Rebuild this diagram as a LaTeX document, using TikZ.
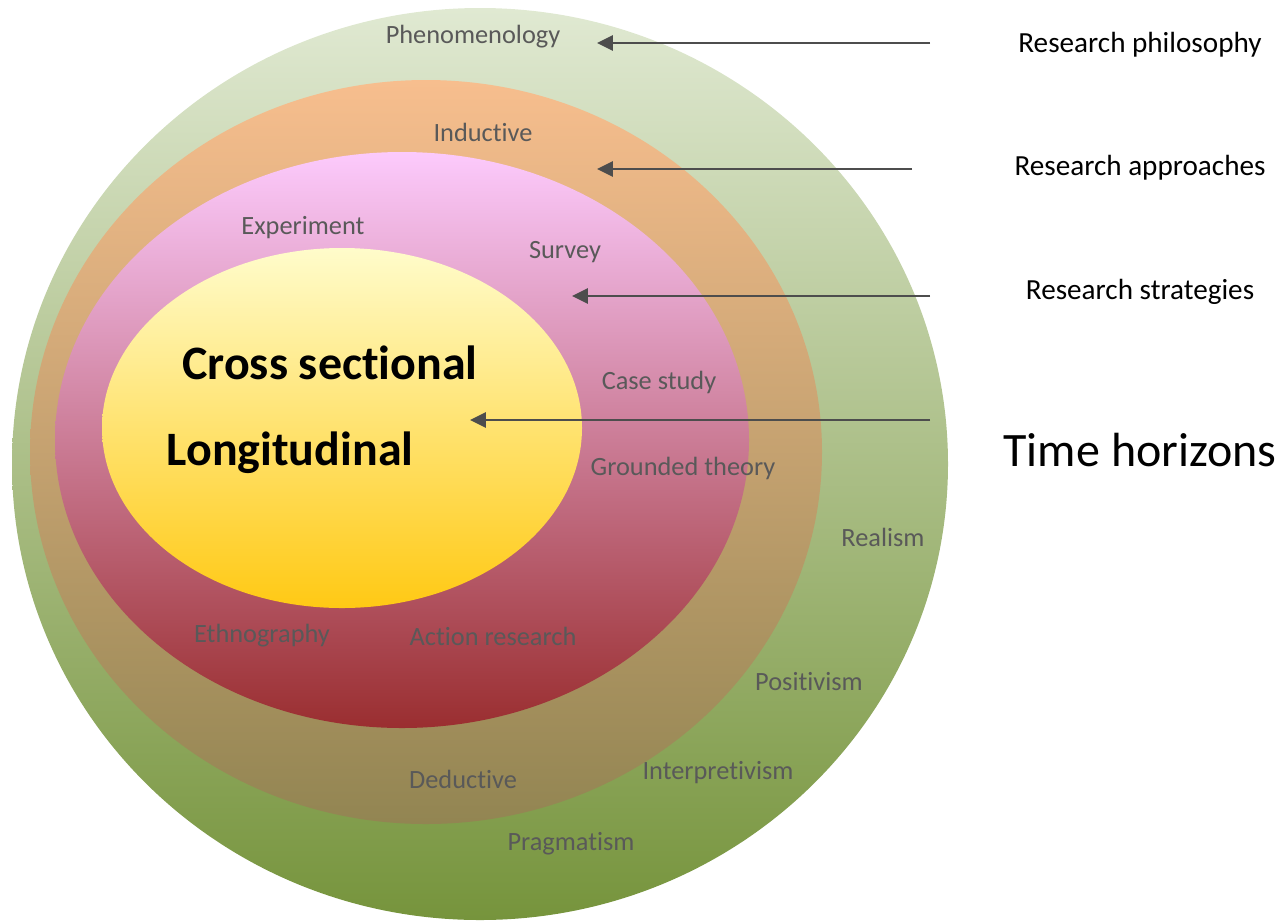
\documentclass[tikz,border=0pt]{standalone}
\usepackage{fontspec}
\setmainfont{Carlito}[Ligatures=NoCommon]
\usetikzlibrary{arrows.meta}
\definecolor{labelgray}{HTML}{595959}
\definecolor{arrowgray}{HTML}{4D4D4D}
\tikzset{
  lbl/.style={text=labelgray, font=\fontsize{15}{17}\selectfont, inner sep=0pt},
  side/.style={text=black, font=\fontsize{16.6}{19}\selectfont, inner sep=0pt},
  big/.style={text=black, font=\fontsize{27.3}{32}\selectfont\bfseries, inner sep=0pt},
  pointer/.style={draw=arrowgray, line width=1.6pt, -{Triangle[length=9pt,width=8.5pt]}}
}
\begin{document}
\begin{tikzpicture}[x=0.02cm, y=-0.02cm]
    \useasboundingbox (0,0) rectangle (1280,920);
    % layers of the onion
    \shade[top color={rgb,255:red,224;green,233;blue,210}, bottom color={rgb,255:red,118;green,148;blue,60}]
      (480,464) ellipse[x radius=468, y radius=456];
    \shade[top color={rgb,255:red,247;green,190;blue,142}, bottom color={rgb,255:red,146;green,133;blue,82}]
      (426,452) ellipse[x radius=396, y radius=372];
    \shade[top color={rgb,255:red,252;green,202;blue,252}, bottom color={rgb,255:red,154;green,46;blue,48}]
      (402,440) ellipse[x radius=347, y radius=288];
    \shade[top color={rgb,255:red,255;green,252;blue,203}, bottom color={rgb,255:red,255;green,201;blue,20}]
      (342,428) ellipse[x radius=240, y radius=180];

    % texts inside
    \node[lbl] (phen) at (473,37) {Phenomenology};
    \node[lbl] (induc) at (483,132) {Inductive};
    \node[lbl] (exper) at (303,228) {Experiment};
    \node[lbl] (surv) at (565,252) {Survey};
    \node[lbl] (cases) at (659,382) {Case study};
    \node[lbl] (ground) at (683,468) {Grounded theory};
    \node[lbl] (real) at (883,537) {Realism};
    \node[lbl] (ethno) at (262,636) {Ethnography};
    \node[lbl] (action) at (493,636) {Action research};
    \node[lbl] (posit) at (809,682) {Positivism};
    \node[lbl] (interp) at (718,773) {Interpretivism};
    \node[lbl] (deduc) at (463,779) {Deductive};
    \node[lbl] (pragm) at (571,844) {Pragmatism};
    \node[big] (cross) at (330,363) {Cross sectional};
    \node[big] (longi) at (290,453) {Longitudinal};

    % layer names
    \node[side] (philo) at (1140,45) {Research philosophy};
    \node[side] (appro) at (1140,168) {Research approaches};
    \node[side] (strat) at (1140,292) {Research strategies};
    \node[side, font=\fontsize{27.3}{32}\selectfont] (horiz) at (1140,450) {Time horizons};

    % arrows
    \coordinate (philoS) at (930,43);  \coordinate (philoE) at (597,43);
    \coordinate (approS) at (912,169); \coordinate (approE) at (597,169);
    \coordinate (stratS) at (930,296); \coordinate (stratE) at (572,296);
    \coordinate (horizS) at (930,420); \coordinate (horizE) at (470,420);
    \draw[pointer] (philoS) -- (philoE);
    \draw[pointer] (approS) -- (approE);
    \draw[pointer] (stratS) -- (stratE);
    \draw[pointer] (horizS) -- (horizE);
\end{tikzpicture}
\end{document}
